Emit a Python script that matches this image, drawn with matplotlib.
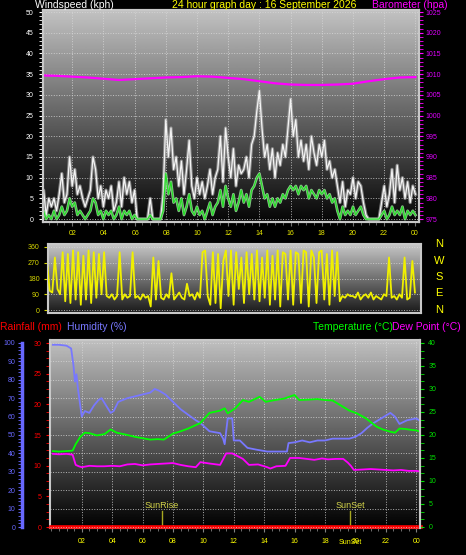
import numpy as np
import matplotlib.pyplot as plt
from matplotlib.ticker import MultipleLocator

plt.rcParams['font.family'] = ['Liberation Sans', 'DejaVu Sans']

## wind, 10 minute samples from 00:00 to 24:00
wind_gust = [2, 7, 1, 5, 3, 5,
             2, 6, 11, 4, 6, 15,
             8, 12, 6, 8, 5, 3,
             5, 7, 15, 12, 5, 8,
             3, 7, 5, 8, 2, 4,
             9, 3, 10, 6, 9, 4,
             7, 0, 0, 0, 0, 0,
             5, 0, 0, 0, 0, 6,
             24, 15, 22, 12, 15, 8,
             14, 6, 12, 19, 8, 5,
             10, 6, 9, 5, 8, 12,
             6, 10, 12, 20, 9, 22,
             15, 10, 17, 8, 13, 11,
             12, 15, 10, 18, 20, 26,
             31, 22, 15, 18, 12, 17,
             10, 16, 13, 18, 15, 22,
             29, 20, 24, 15, 19, 14,
             18, 12, 20, 16, 13, 18,
             15, 19, 12, 14, 10, 12,
             8, 4, 9, 3, 7, 6,
             10, 5, 9, 8, 4, 1,
             0, 0, 0, 0, 0, 4,
             8, 3, 6, 12, 4, 13,
             7, 10, 5, 9, 4, 8,
             6]
wind_avg = [0, 2, 0, 1, 0, 2,
            0, 1, 3, 1, 2, 5,
            3, 4, 1, 2, 1, 0,
            1, 2, 5, 4, 1, 2,
            0, 2, 1, 2, 0, 1,
            3, 0, 2, 1, 2, 0,
            1, 0, 0, 0, 0, 0,
            1, 0, 0, 0, 0, 2,
            11, 6, 9, 4, 5, 2,
            5, 1, 3, 6, 2, 1,
            3, 1, 2, 0, 2, 4,
            1, 3, 4, 7, 3, 8,
            5, 3, 6, 2, 4, 7,
            4, 6, 3, 7, 8, 10,
            11, 8, 5, 6, 3, 5,
            3, 5, 4, 6, 5, 7,
            8, 7, 8, 6, 8, 7,
            8, 5, 7, 6, 5, 7,
            6, 7, 5, 6, 4, 5,
            2, 0, 3, 1, 2, 1,
            3, 1, 2, 3, 1, 0,
            0, 0, 0, 0, 0, 1,
            2, 0, 1, 3, 1, 2,
            1, 3, 0, 2, 1, 2,
            1]
wind_dir = [270, 250, 270, 110, 100, 300,
            120, 90, 330, 50, 320, 40,
            340, 60, 330, 30, 310, 60,
            340, 40, 330, 70, 320, 90,
            330, 80, 70, 90, 60, 80,
            330, 60, 90, 70, 80, 330,
            70, 80, 60, 90, 70, 80,
            20, 300, 60, 280, 70, 60,
            90, 70, 210, 60, 80, 100,
            70, 60, 150, 80, 90, 60,
            100, 70, 330, 340, 80, 30,
            330, 40, 320, 10, 280, 340,
            80, 340, 30, 330, 120, 300,
            40, 330, 90, 320, 60, 340,
            50, 300, 70, 340, 30, 310,
            60, 340, 20, 330, 320, 60,
            340, 30, 330, 320, 40, 340,
            330, 20, 340, 300, 40, 330,
            340, 60, 320, 30, 340, 80,
            330, 50, 80, 70, 90, 80,
            80, 70, 100, 60, 80, 90,
            70, 100, 60, 80, 70, 60,
            90, 80, 300, 70, 80, 60,
            90, 70, 300, 60, 70, 280,
            100]
wind_hours = np.arange(len(wind_gust)) / 6.0

## barometer, hourly
baro = [1009.7, 1009.6, 1009.4, 1009.2, 1008.9, 1008.6, 1008.8, 1009.0,
        1009.2, 1009.3, 1009.5, 1009.4, 1009.1, 1008.8, 1008.3, 1007.8,
        1007.5, 1007.4, 1007.4, 1007.5, 1007.7, 1008.3, 1008.8, 1009.2, 1009.3]
baro_hours = np.arange(len(baro))

## humidity
hum_hours = [0.1, 0.5, 1.0, 1.3, 1.45, 1.55, 1.65, 1.75, 1.9, 2.0, 2.2, 2.5, 2.8,
             3.1, 3.3, 3.6, 3.9, 4.1, 4.4, 4.7, 5.0, 5.5, 6.0, 6.5, 6.8, 7.1,
             7.5, 8.0, 8.5, 9.0, 9.5, 9.8, 10.4, 11.1, 11.3, 11.4, 11.6, 11.9,
             12.0, 12.4, 12.9, 13.5, 14.2, 14.8, 15.5, 15.6, 16.0, 16.5, 17.0,
             17.5, 18.0, 18.5, 19.0, 19.6, 20.0, 20.4, 20.8, 21.2, 21.7, 22.3,
             22.6, 22.9, 23.4, 24.0, 24.2]
humidity = [99, 99, 98.5, 97, 88, 79, 83, 75, 66, 60, 63, 62, 66,
            69, 70, 66, 62, 63, 68, 69, 70, 71, 72, 73, 75, 74,
            72, 68, 64, 61, 58, 56.5, 52, 51, 48, 45, 59, 59,
            47, 47, 43, 42, 41, 41, 41, 45.6, 46, 47, 46,
            47, 47, 48, 48, 48, 49, 51, 54, 56.5, 59, 62,
            60, 56, 58, 59, 58]

## temperature
temp_hours = [0.1, 0.5, 1.0, 1.4, 1.6, 1.9, 2.2, 2.5, 3.0, 3.5, 3.9, 4.3, 5.0,
              5.5, 6.0, 6.5, 7.0, 7.4, 8.0, 8.5, 9.0, 9.8, 10.4, 11.1, 11.4,
              11.6, 12.1, 12.6, 13.0, 13.7, 14.1, 14.7, 15.3, 16.0, 16.3, 17.0,
              17.5, 18.0, 18.5, 19.2, 19.6, 20.1, 20.7, 21.4, 21.8, 22.3, 22.6,
              22.9, 23.3, 23.7, 24.0, 24.2]
temperature = [16.5, 16.4, 16.5, 16.6, 18.0, 19.6, 20.5, 20.4, 19.9, 20.2, 21.2, 20.5, 20.0,
               19.6, 19.3, 19.0, 19.1, 19.0, 20.3, 20.8, 21.4, 22.6, 24.8, 25.3, 25.8,
               24.7, 25.8, 27.6, 27.2, 28.3, 27.2, 27.6, 27.9, 28.7, 27.6, 27.7,
               27.8, 27.6, 27.5, 26.1, 25.3, 24.7, 23.6, 21.8, 21.2, 20.7, 20.5,
               21.4, 21.3, 21.1, 21.0, 20.8]

## dew point
dew_hours = [0.1, 0.5, 1.0, 1.4, 1.6, 1.8, 2.0, 2.5, 3.0, 3.5, 4.0, 4.5, 5.0,
             5.5, 6.0, 6.5, 7.0, 7.5, 8.0, 8.5, 9.0, 9.5, 9.8, 10.4, 11.1,
             11.5, 11.9, 12.2, 12.6, 13.0, 13.6, 14.2, 14.4, 14.8, 15.4, 15.7,
             16.3, 16.8, 17.3, 17.8, 18.2, 18.7, 19.2, 19.5, 19.7, 19.9, 20.5,
             21.0, 21.5, 22.0, 22.5, 23.0, 23.5, 24.0, 24.2]
dew_point = [15.9, 15.8, 15.9, 15.7, 13.5, 13.2, 13.0, 13.3, 13.2, 13.2, 13.3, 13.2, 13.6,
             13.7, 13.4, 13.6, 13.7, 13.8, 13.9, 13.5, 13.2, 13.0, 14.1, 13.8, 13.5,
             16.0, 16.0, 15.5, 14.8, 13.5, 13.6, 13.0, 12.7, 13.2, 13.3, 15.0,
             15.0, 14.8, 14.6, 14.9, 14.7, 14.8, 14.8, 14.0, 13.3, 12.4, 12.5,
             12.6, 12.5, 12.4, 12.3, 12.4, 12.2, 12.2, 12.1]

## rainfall
rain_hours = [0, 24.3]
rainfall = [0, 0]

sunrise = 7.26
sunset = 19.65

hour_ticks = list(range(2, 25, 2))
hour_labels = ['%02d' % (h % 24) for h in hour_ticks]

W, H = 466, 555
fig = plt.figure(figsize=(W / 100, H / 100), dpi=100, facecolor='black')


def rect(x0, y0, x1, y1):
    return [x0 / W, 1 - y1 / H, (x1 - x0) / W, (y1 - y0) / H]


def gradient(ax, top, bottom):
    g = np.linspace(bottom, top, 256).reshape(-1, 1)
    ax.imshow(g, extent=[0, 1, 0, 1], transform=ax.transAxes, origin='lower',
              cmap='gray', vmin=0, vmax=1, aspect='auto', zorder=0)


def frame(ax):
    for s in ax.spines.values():
        s.set_color('#c8c8c8')
        s.set_linewidth(1.5)


grid_kw = dict(color='#d8d8d8', linestyle=':', linewidth=0.7, alpha=0.8)
tick_fs = 5

## ---------- windspeed + barometer ----------
ax_w = fig.add_axes(rect(43, 10, 419, 222))
gradient(ax_w, 0.76, 0.02)
ax_w.plot(wind_hours, wind_gust, color='#a8a8a8', linewidth=2.4, alpha=0.7, zorder=2)
ax_w.plot(wind_hours, wind_gust, color='#f4f4f4', linewidth=0.9, zorder=3)
ax_w.plot(wind_hours, wind_avg, color='#a8e8a8', linewidth=2.0, alpha=0.8, zorder=4)
ax_w.plot(wind_hours, wind_avg, color='#22e022', linewidth=0.8, zorder=5)
ax_w.set_xlim(0.13, 24.23)
ax_w.set_ylim(-0.7, 50.5)
ax_w.yaxis.set_major_locator(MultipleLocator(5))
ax_w.yaxis.set_minor_locator(MultipleLocator(1))
ax_w.set_xticks(hour_ticks)
ax_w.xaxis.set_minor_locator(MultipleLocator(0.5))
ax_w.tick_params(axis='x', labelbottom=False, length=3, color='#707070')
ax_w.tick_params(axis='x', which='minor', length=2, color='#707070')
ax_w.tick_params(axis='y', which='both', colors='white', labelsize=tick_fs, length=3, pad=4)
ax_w.grid(True, **grid_kw)
ax_w.set_axisbelow(False)
frame(ax_w)

ax_b = ax_w.twinx()
ax_b.plot(baro_hours, baro, color='#ff00ff', linewidth=1.6)
ax_b.set_ylim(975 - 0.7, 1025.5)
ax_b.yaxis.set_major_locator(MultipleLocator(5))
ax_b.yaxis.set_minor_locator(MultipleLocator(1))
ax_b.tick_params(axis='y', which='both', colors='#ff00ff', labelsize=tick_fs, length=3, pad=2)
ax_b.tick_params(axis='y', labelcolor='#e000ff')
frame(ax_b)

fig.text(35 / W, 1 - 5 / H, 'Windspeed (kph)', color='white', fontsize=7.5, va='center')
fig.text(172 / W, 1 - 5 / H, '24 hour graph day : 16 September 2026', color='#ffff00',
         fontsize=7.5, va='center')
fig.text(372 / W, 1 - 5 / H, 'Barometer (hpa)', color='#ff00ff', fontsize=7.5, va='center')

## ---------- wind direction ----------
ax_d = fig.add_axes(rect(48, 244, 421, 313))
gradient(ax_d, 0.78, 0.1)
ax_d.plot(wind_hours, wind_dir, color='#f0f000', linewidth=1.3, zorder=3)
ax_d.set_xlim(0.39, 24.39)
ax_d.set_ylim(-17, 377)
ax_d.set_yticks([0, 90, 180, 270, 360])
ax_d.set_xticks(hour_ticks)
ax_d.set_xticklabels(hour_labels)
ax_d.xaxis.tick_top()
ax_d.tick_params(axis='x', colors='#e8e800', labelsize=tick_fs, length=0, pad=5)
ax_d.tick_params(axis='y', colors='#d8d800', labelsize=tick_fs, length=3, pad=3)
ax_d.grid(True, axis='y', **grid_kw)
frame(ax_d)

for i, letter in enumerate(['N', 'W', 'S', 'E', 'N']):
    fig.text(439 / W, 1 - (244 + 16.5 * i) / H, letter, color='#ffff00', fontsize=8,
             ha='center', va='center')

## ---------- rain / humidity / temperature ----------
ax_r = fig.add_axes(rect(50, 340, 420, 528))
gradient(ax_r, 0.75, 0.0)
ax_r.plot(rain_hours, rainfall, color='#ff0000', linewidth=2.6, zorder=6, clip_on=False)
ax_r.set_xlim(-0.09, 24.25)
ax_r.set_ylim(-0.16, 30.5)
ax_r.yaxis.set_major_locator(MultipleLocator(5))
ax_r.yaxis.set_minor_locator(MultipleLocator(1.25))
ax_r.set_xticks(hour_ticks)
ax_r.set_xticklabels(hour_labels)
ax_r.xaxis.set_minor_locator(MultipleLocator(0.5))
ax_r.tick_params(axis='x', colors='#808080', labelcolor='#ffff00', labelsize=tick_fs,
                 length=3, pad=4)
ax_r.tick_params(axis='x', which='minor', length=2, color='#808080')
ax_r.tick_params(axis='y', which='both', colors='#ff0000', labelsize=tick_fs, length=3, pad=3)
ax_r.grid(True, axis='x', **grid_kw)
frame(ax_r)

## sunrise / sunset markers (the sunset name also sits on the time axis, as in the original)
for t, name in [(sunrise, 'SunRise'), (sunset, 'SunSet')]:
    ax_r.plot([t, t], [0, 2.6], color='#a8a820', linewidth=1, zorder=5)
    ax_r.text(t, 2.7, name, color='#d4d44a', fontsize=6.5, ha='center', va='bottom', zorder=7)
ax_r.text(sunset, -2.0, 'SunSet', color='#ffff00', fontsize=tick_fs, ha='center', va='top',
          clip_on=False)

ax_h = ax_r.twinx()
ax_h.plot(hum_hours, humidity, color='#7878ff', linewidth=1.3)
ax_h.set_ylim(-0.54, 101.6)
ax_h.yaxis.tick_left()
ax_h.spines['left'].set_visible(True)
ax_h.spines['left'].set_position(('outward', 20))
ax_h.spines['left'].set_bounds(0, 100)
ax_h.spines['left'].set_color('#6868ff')
ax_h.spines['left'].set_linewidth(2.5)
ax_h.spines['right'].set_visible(False)
ax_h.spines['top'].set_visible(False)
ax_h.spines['bottom'].set_visible(False)
ax_h.yaxis.set_major_locator(MultipleLocator(10))
ax_h.yaxis.set_minor_locator(MultipleLocator(2))
ax_h.tick_params(axis='y', which='both', colors='#6868ff', labelsize=tick_fs, length=3, pad=2)
ax_h.grid(True, axis='y', **grid_kw)

ax_t = ax_r.twinx()
ax_t.plot(temp_hours, temperature, color='#00ff00', linewidth=1.3)
ax_t.plot(dew_hours, dew_point, color='#ff00ff', linewidth=1.3)
ax_t.set_ylim(-0.22, 40.65)
ax_t.yaxis.set_major_locator(MultipleLocator(5))
ax_t.yaxis.set_minor_locator(MultipleLocator(5 / 3))
ax_t.tick_params(axis='y', which='both', colors='#00e000', labelsize=tick_fs, length=3, pad=3)
for s in ['left', 'top', 'bottom']:
    ax_t.spines[s].set_visible(False)
ax_t.spines['right'].set_color('#c8c8c8')
ax_t.spines['right'].set_linewidth(1.5)

fig.text(0 / W, 1 - 327 / H, 'Rainfall (mm)', color='#ff0000', fontsize=7.5, va='center')
fig.text(67 / W, 1 - 327 / H, 'Humidity (%)', color='#7878ff', fontsize=7.5, va='center')
fig.text(313 / W, 1 - 327 / H, 'Temperature (\u00b0C)', color='#00ff00', fontsize=7.5,
         va='center')
fig.text(392 / W, 1 - 327 / H, 'Dew Point (\u00b0C)', color='#ff00ff', fontsize=7.5,
         va='center')

fig.savefig('out.png', dpi=100, facecolor='black')
